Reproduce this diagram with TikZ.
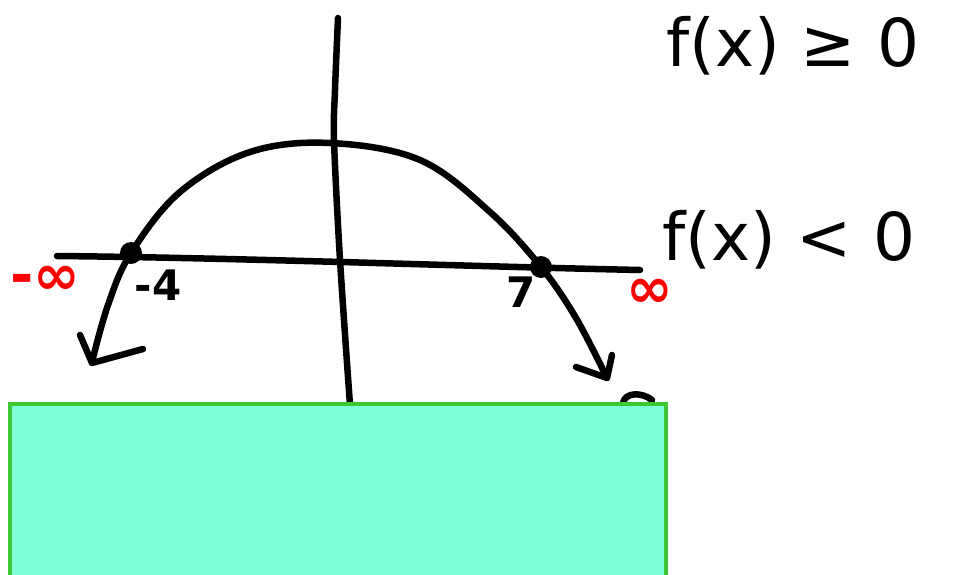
\documentclass[tikz,border=0pt]{standalone}
\usepackage{fontspec}
\setmainfont{DejaVu Sans}
\begin{document}
\begin{tikzpicture}[x=1pt,y=-1pt,
  pen/.style={line width=6.5pt,line cap=round,line join=round,black},
  lbl/.style={font=\fontsize{42}{44}\selectfont\bfseries,inner sep=0pt},
  redlbl/.style={font=\fontsize{56}{58}\selectfont\bfseries,text=red,inner sep=0pt},
  big/.style={font=\fontsize{66}{70}\selectfont,inner sep=0pt,anchor=west}]
\useasboundingbox (0,0) rectangle (954,575);
% axes
\draw[pen] plot[smooth] coordinates {(338,18) (335,90) (334,140) (340,260) (350,405)};
\draw[pen] (57,256) .. controls (250,258) and (450,266) .. (640,270);
% parabola
\draw[pen] plot[smooth,tension=0.6] coordinates {(92,362) (108,305) (131,253) (180,192) (250,152) (330,143) (420,160) (490,212) (541,267) (576,318) (607,378)};
% arrowheads
\draw[pen] (80,335) -- (92,363) -- (143,349);
\draw[pen] (576,367) -- (607,378) -- (612,355);
% roots
\fill (131,253) circle (11);
\fill (541,267) circle (11);
\node[lbl] (m4) at (158,285) {-4};
\node[lbl] (s7) at (521,292) {7};
\node[redlbl] (ninf) at (45,280) {-∞};
\node[redlbl] (pinf) at (650,293) {∞};
\node[big] (ge) at (666,46) {f(x) ≥ 0};
\node[big] (lt) at (662,240) {f(x) < 0};
% small mark
\draw[pen] (623,403) .. controls (625,392) and (642,392) .. (652,400);
% green box
\draw[fill={rgb,255:red,128;green,255;blue,212},draw={rgb,255:red,60;green,200;blue,50},line width=4pt] (10,404) rectangle (666,580);
\end{tikzpicture}
\end{document}
